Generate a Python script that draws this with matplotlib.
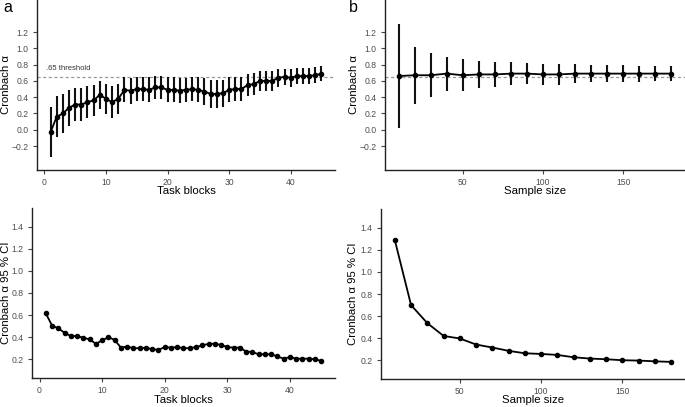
import numpy as np
import matplotlib as mpl
mpl.use('Agg')
import matplotlib.pyplot as plt

plt.rcParams['font.family'] = ['Liberation Sans', 'DejaVu Sans']

# panel a: alpha by number of task blocks
blocks = np.arange(1, 46)
alpha_blocks = [-0.03, 0.16, 0.20, 0.27, 0.31, 0.31, 0.34, 0.36, 0.43, 0.38,
                0.34, 0.38, 0.49, 0.48, 0.50, 0.50, 0.49, 0.52, 0.52, 0.49,
                0.49, 0.48, 0.49, 0.50, 0.49, 0.47, 0.44, 0.44, 0.45, 0.49,
                0.50, 0.50, 0.55, 0.56, 0.60, 0.60, 0.60, 0.64, 0.65, 0.64,
                0.66, 0.66, 0.66, 0.67, 0.69]
ci_blocks = [0.616, 0.505, 0.48, 0.44, 0.41, 0.41, 0.395, 0.38, 0.34, 0.37,
             0.40, 0.375, 0.305, 0.315, 0.30, 0.30, 0.305, 0.29, 0.285, 0.31,
             0.305, 0.31, 0.30, 0.30, 0.31, 0.325, 0.34, 0.34, 0.33, 0.31,
             0.305, 0.305, 0.27, 0.265, 0.245, 0.245, 0.245, 0.225, 0.205, 0.22,
             0.205, 0.205, 0.205, 0.20, 0.185]

# panel b: alpha by sample size
sizes = np.arange(10, 190, 10)
alpha_sizes = [0.66, 0.67, 0.67, 0.69, 0.67, 0.68, 0.68, 0.69, 0.69, 0.68,
               0.68, 0.69, 0.69, 0.69, 0.69, 0.69, 0.69, 0.69]
ci_sizes = [1.288, 0.699, 0.536, 0.42, 0.397, 0.342, 0.315, 0.285, 0.263,
            0.257, 0.248, 0.227, 0.215, 0.209, 0.20, 0.197, 0.19, 0.185]

threshold = 0.65

W, H = 685, 407
fig = plt.figure(figsize=(W / 100, H / 100), dpi=100)

def ax_px(left, top, right, bottom):
    return fig.add_axes([left / W, 1 - bottom / H, (right - left) / W, (bottom - top) / H])

def style(ax):
    for s in ['top', 'right']:
        ax.spines[s].set_visible(False)
    for s in ['left', 'bottom']:
        ax.spines[s].set_linewidth(1.0)
        ax.spines[s].set_color('#222222')
    ax.tick_params(axis='both', labelsize=6.2, colors='#444444', labelcolor='#4d4d4d',
                   length=3, width=0.8)
    ax.tick_params(axis='y', pad=3)
    ax.tick_params(axis='x', pad=2.5)

def expand(lo, hi):
    d = (hi - lo) * 0.05
    return lo - d, hi + d

ax1 = ax_px(37, 0, 335, 170)
ax2 = ax_px(385, 0, 685, 170)
ax3 = ax_px(32, 208, 335, 378)
ax4 = ax_px(381, 209, 685, 379)

ab = np.array(alpha_blocks); cb = np.array(ci_blocks)
asz = np.array(alpha_sizes); cs = np.array(ci_sizes)

for ax, x, a, c in [(ax1, blocks, ab, cb), (ax2, sizes, asz, cs)]:
    ax.axhline(threshold, color='#999999', lw=0.9, ls=(0, (2.5, 2)), zorder=1)
    ax.vlines(x, a - c / 2, a + c / 2, color='#111111', lw=1.5, zorder=2)
    ax.plot(x, a, color='black', lw=1.3, marker='o', ms=3, zorder=3)
    ax.set_ylim(*expand(-0.4, 1.5))
    ax.set_yticks([-0.2, 0.0, 0.2, 0.4, 0.6, 0.8, 1.0, 1.2])
    ax.set_yticklabels(['\u22120.2', '0.0', '0.2', '0.4', '0.6', '0.8', '1.0', '1.2'])
    ax.set_ylabel('Cronbach α', fontsize=8.2)
    style(ax)

ax1.text(0.3, 0.71, '.65 threshold', fontsize=5.5, color='#333333', va='bottom')

for ax, x, c in [(ax3, blocks, cb), (ax4, sizes, cs)]:
    ax.plot(x, c, color='black', lw=1.3, marker='o', ms=3)
    ax.set_ylim(*expand(0.1, 1.5))
    ax.set_yticks([0.2, 0.4, 0.6, 0.8, 1.0, 1.2, 1.4])
    ax.set_ylabel('Cronbach α 95 % CI', fontsize=8.2)
    style(ax)

for ax in [ax1, ax3]:
    ax.set_xlim(*expand(1, 45))
    ax.set_xticks([0, 10, 20, 30, 40])
    ax.set_xlabel('Task blocks', fontsize=8.2)
for ax in [ax2, ax4]:
    ax.set_xlim(*expand(10, 180))
    ax.set_xticks([50, 100, 150])
    ax.set_xlabel('Sample size', fontsize=8.2)

# label positions (axes fraction)
for ax, yx, xy in [(ax1, -0.104, -0.1235), (ax2, -0.103, -0.1235),
                   (ax3, -0.086, -0.129), (ax4, -0.092, -0.1235)]:
    ax.yaxis.set_label_coords(yx, 0.5)
    ax.yaxis.label.set_va('center')
    ax.xaxis.set_label_coords(0.5, xy)
    ax.xaxis.label.set_va('center')

fig.text(3 / W, 1 - 0 / H, 'a', fontsize=11.5, va='top', ha='left')
fig.text(349 / W, 1 - 0 / H, 'b', fontsize=11.5, va='top', ha='left')

fig.savefig('out.png', dpi=100)
